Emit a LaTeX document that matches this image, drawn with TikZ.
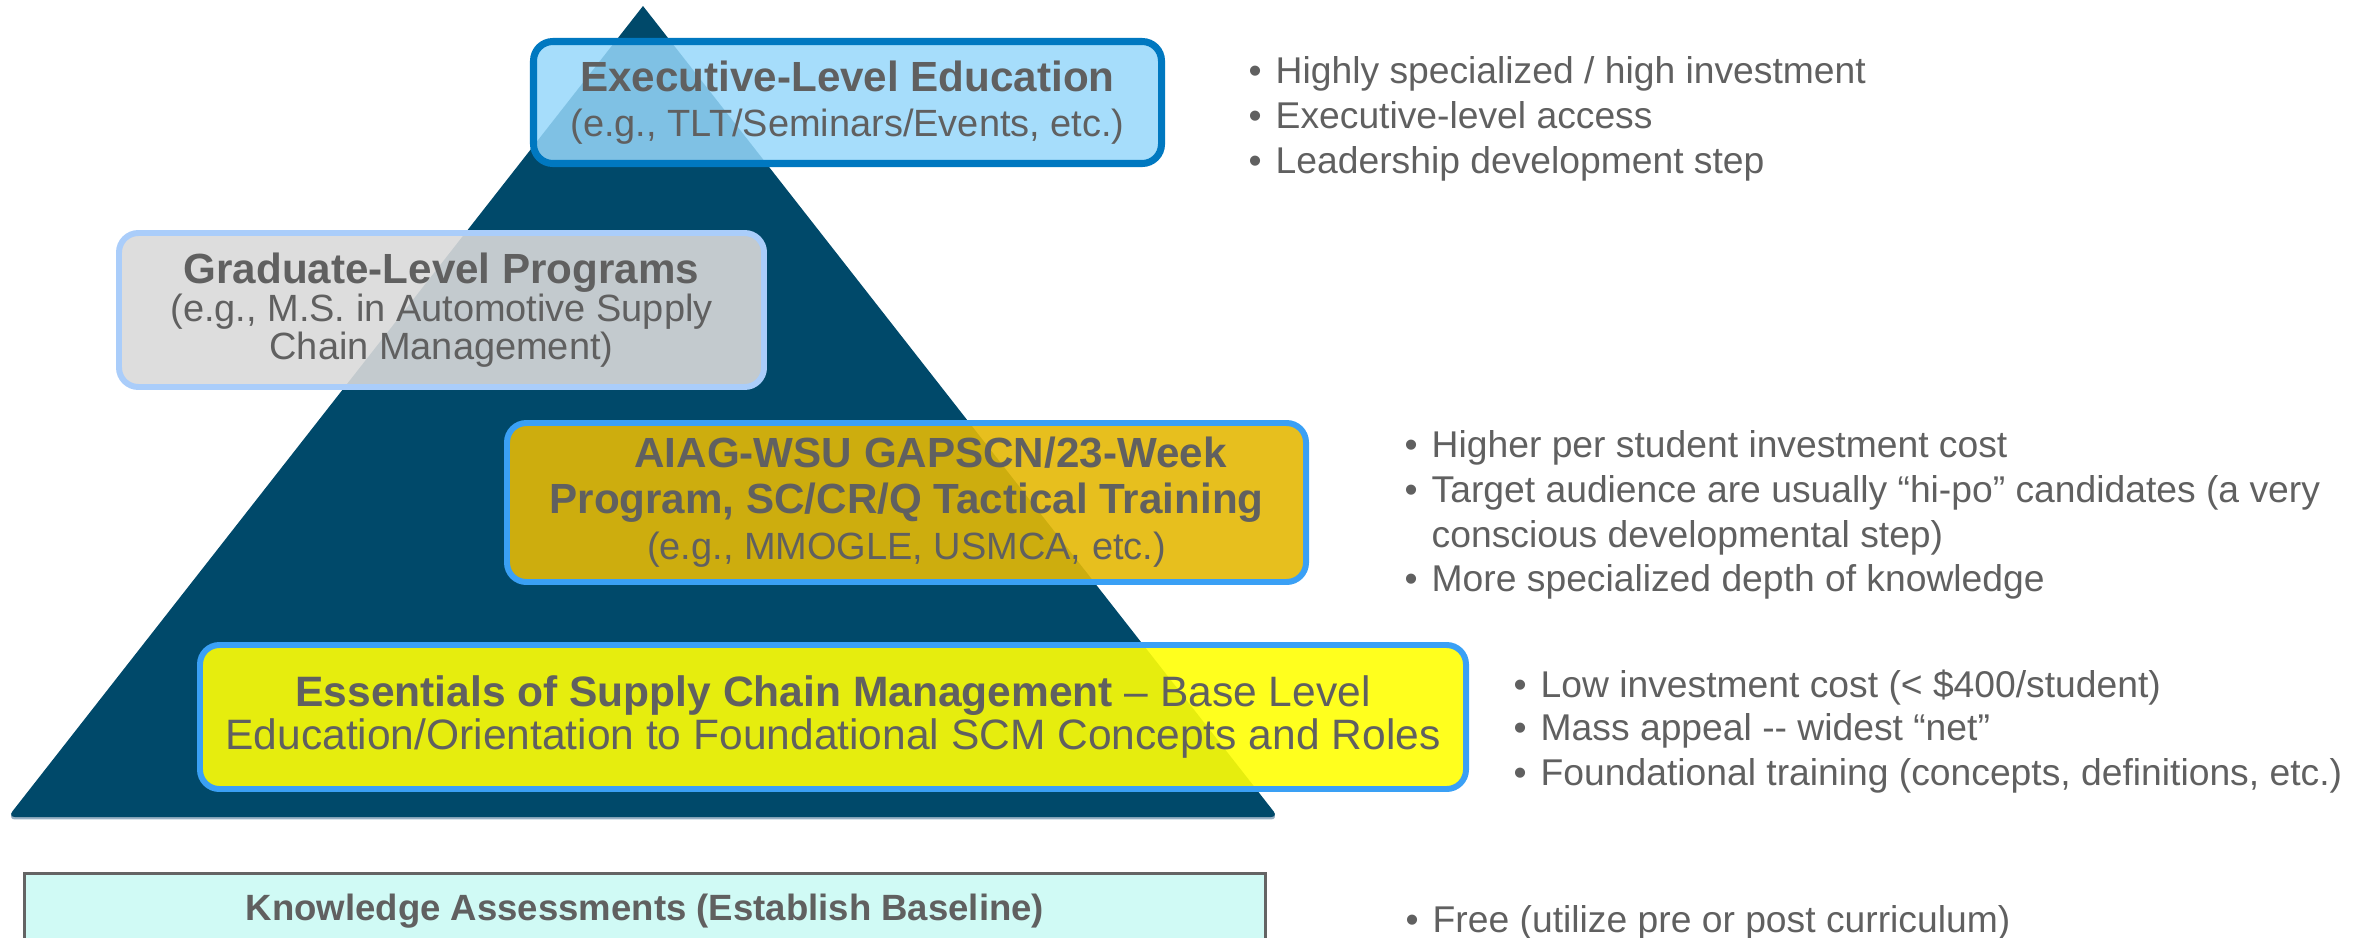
\documentclass[tikz,border=0pt]{standalone}
\usepackage{fontspec}
\setmainfont{Liberation Sans}
\usepackage{tikz}
\definecolor{pyrblue}{RGB}{0,73,106}
\definecolor{pyrshade}{RGB}{150,175,195}
\definecolor{txtgray}{RGB}{96,96,96}
\definecolor{execfill}{RGB}{150,215,250}
\definecolor{execline}{RGB}{0,120,192}
\definecolor{gradfill}{RGB}{217,217,217}
\definecolor{gradline}{RGB}{170,205,250}
\definecolor{aiagfill}{RGB}{228,184,5}
\definecolor{tierline}{RGB}{58,160,245}
\definecolor{essfill}{RGB}{255,255,5}
\definecolor{knowfill}{RGB}{208,250,245}
\definecolor{knowline}{RGB}{100,100,100}
\newcommand{\tierhead}{\fontsize{12}{12.8}\selectfont\bfseries}
\newcommand{\tiernote}{\fontsize{10.8}{12.8}\selectfont}
\newcommand{\esshead}{\fontsize{12.1}{12.2}\selectfont\bfseries}
\newcommand{\essnote}{\fontsize{12.1}{12.2}\selectfont}
\newcommand{\pbullet}{\makebox[0.27cm][l]{•}}
\newcommand{\pindent}{\makebox[0.27cm][l]{}}
\tikzset{
  tierbox/.style={draw, rounded corners=5.5pt, line width=1.7pt, align=center,
    inner sep=0pt, text=txtgray, text opacity=1, fill opacity=0.9},
  noteline/.style={anchor=base west, inner sep=0pt, text=txtgray,
    font=\fontsize{10.6}{12.8}\selectfont},
}

\begin{document}
\begin{tikzpicture}
\useasboundingbox (0,0) rectangle (23.64,9.37);
% pyramid
\fill[pyrshade, yshift=-0.7pt] (6.43,9.31) [rounded corners=2pt] -- (12.78,1.20) -- (0.08,1.20) [sharp corners] -- cycle;
\fill[pyrblue] (6.43,9.31) [rounded corners=2pt] -- (12.78,1.20) -- (0.08,1.20) [sharp corners] -- cycle;

% tiers
\begin{scope}[every node/.style={tierbox}]
\node[draw=execline, line width=2pt, fill=execfill, fill opacity=0.85,
  minimum width=6.28cm, minimum height=1.22cm, font=\fontsize{12}{12.8}\selectfont]
  (exec) at (8.475,8.345)
  {{\tierhead Executive-Level Education}\\{\tiernote (e.g., TLT/Seminars/Events, etc.)}};
\node[draw=gradline, fill=gradfill, minimum width=6.45cm, minimum height=1.54cm,
  font=\fontsize{12}{10.8}\selectfont]
  (grad) at (4.415,6.27)
  {{\tierhead Graduate-Level Programs}\\{\tiernote (e.g., M.S. in Automotive Supply}\\{\tiernote Chain Management)}};
\node[draw=tierline, fill=aiagfill, minimum width=7.99cm, minimum height=1.59cm,
  font=\fontsize{12}{13.1}\selectfont]
  (aiag) at (9.065,4.345)
  {{\tierhead\hspace*{0.48cm}AIAG-WSU GAPSCN/23-Week}\\{\tierhead Program, SC/CR/Q Tactical Training}\\{\tiernote (e.g., MMOGLE, USMCA, etc.)}};
\node[draw=tierline, fill=essfill, minimum width=12.66cm, minimum height=1.44cm,
  font=\fontsize{12.1}{12.2}\selectfont]
  (ess) at (8.33,2.20)
  {{\esshead Essentials of Supply Chain Management}{\essnote{} \textendash{} Base Level}\\{\essnote Education/Orientation to Foundational SCM Concepts and Roles}};
\end{scope}

% baseline box
\node[draw=knowline, line width=0.85pt, fill=knowfill, inner sep=0pt,
  minimum width=12.41cm, minimum height=1.135cm] (know) at (6.45,0.0675) {};
\node[anchor=base, inner sep=0pt, text=txtgray, font=\fontsize{10.4}{12}\selectfont\bfseries]
  (knowtext) at (6.45,0.17) {Knowledge Assessments (Establish Baseline)};

% notes
\begin{scope}[every node/.style={noteline}]
\node (ex1) at (12.48,8.54) {\pbullet Highly specialized / high investment};
\node (ex2) at (12.48,8.09) {\pbullet Executive-level access};
\node (ex3) at (12.48,7.64) {\pbullet Leadership development step};
\node (ag1) at (14.04,4.80) {\pbullet Higher per student investment cost};
\node (ag2) at (14.04,4.35) {\pbullet Target audience are usually “hi-po” candidates (a very};
\node (ag3) at (14.04,3.90) {\pindent conscious developmental step)};
\node (ag4) at (14.04,3.46) {\pbullet More specialized depth of knowledge};
\node (es1) at (15.13,2.40) {\pbullet Low investment cost (< \$400/student)};
\node (es2) at (15.13,1.97) {\pbullet Mass appeal -{}- widest “net”};
\node (es3) at (15.13,1.52) {\pbullet Foundational training (concepts, definitions, etc.)};
\node (fr1) at (14.05,0.05) {\pbullet Free (utilize pre or post curriculum)};
\end{scope}
\end{tikzpicture}
\end{document}
